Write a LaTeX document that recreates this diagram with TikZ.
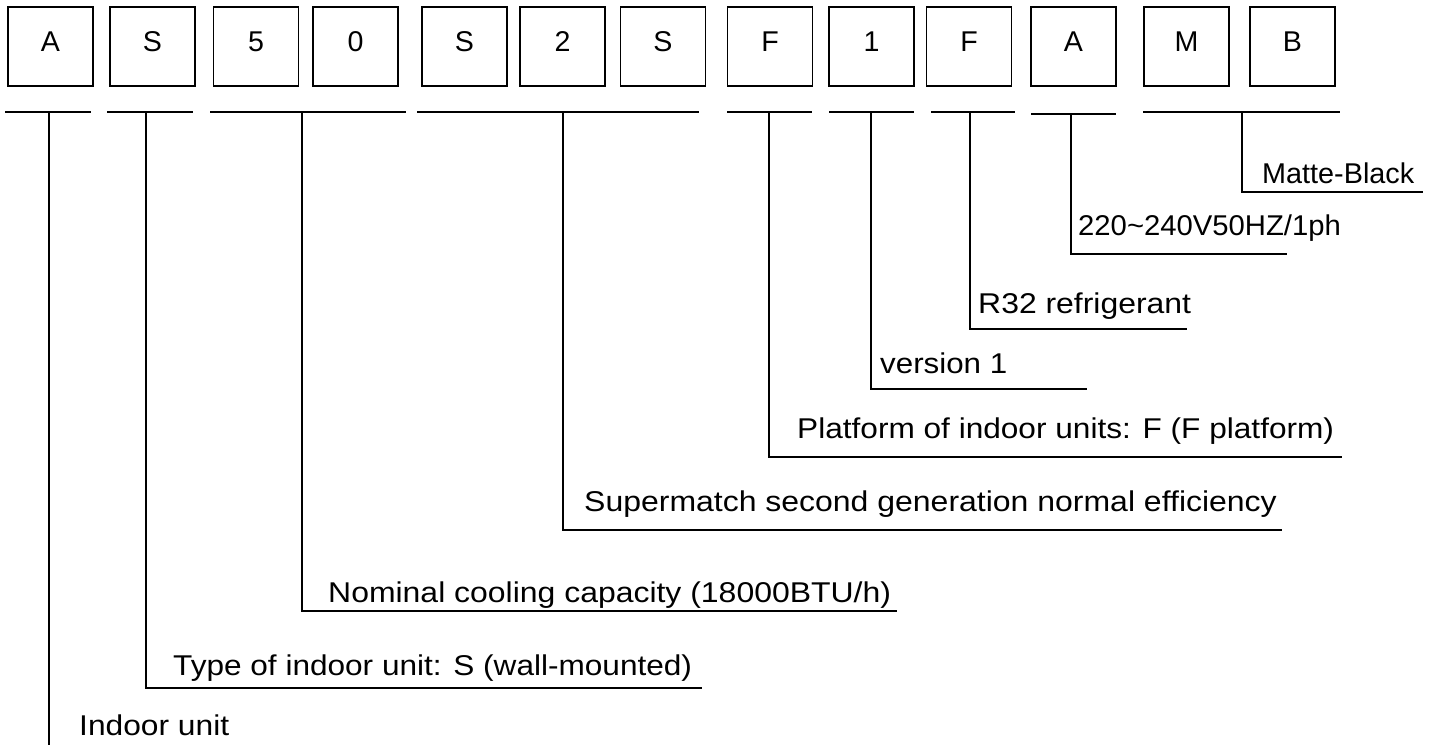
\documentclass[tikz,border=0pt]{standalone}
\usepackage{fontspec}
\usepackage{graphicx}
\setmainfont{Liberation Sans}
\begin{document}
\begin{tikzpicture}
[x=1pt, y=-1pt,
codebox/.style={draw, line width=1.6pt, minimum width=85pt, minimum height=79pt,
                inner sep=0pt, text height=20.5pt, text depth=11pt},
rule/.style={line width=1.6pt},
note/.style={anchor=base west, inner sep=0pt}
]
\tikzset{every node/.style={font=\fontsize{28.6}{34}\selectfont}}
\useasboundingbox (0,0) rectangle (1433,745);
% the code boxes
\foreach \x/\c [count=\i] in {50.5/A,152.5/S,256/5,355.5/0,464.5/S,562.5/2,663/S,
                              770/F,871.5/1,969/F,1073.5/A,1186.5/M,1292.5/B}
    \node[codebox] (box\i) at (\x,46.5) {\c};
% bars under the groups
\foreach \l/\r/\s/\y [count=\i] in {5/91/49/112,107/193/146/112,210/406/302/112,
                                    417/699/563/112,727/812/769/112,829/914/871/112,
                                    931/1015/970/112,1031/1116/1071/114,1143/1340/1242/112}{
    \coordinate (bl\i) at (\l,\y);
    \coordinate (br\i) at (\r,\y);
    \coordinate (top\i) at (\s,\y);
    \draw[rule] (bl\i) -- (br\i);
}
% the explanations
\coordinate (foot1) at (49,745);
\draw[rule] (top1) -- (foot1);
\node[note] (lab1) at (79,735) {\scalebox{1.11}[1]{Indoor unit}};
\foreach \i/\ly/\ex/\tx/\ty/\sx/\txt in {
    2/688/702/173/675/1.104/{Type of indoor unit: S (wall-mounted)},
    3/611/897/328/602/1.117/{Nominal cooling capacity (18000BTU/h)},
    4/530/1282/584/511/1.118/{Supermatch second generation normal efficiency},
    5/457/1342/797/438/1.105/{Platform of indoor units: F (F platform)},
    6/389/1087/880/373/1.095/{version 1},
    7/329/1187/978/313/1.116/{R32 refrigerant},
    8/254/1287/1078/235/1.023/{220\textasciitilde240V50HZ/1ph},
    9/192/1423/1262/183/1.007/{Matte-Black}}{
    \coordinate (end\i) at (\ex,\ly);
    \draw[rule] (top\i) |- (end\i);
    \node[note] (lab\i) at (\tx,\ty) {\scalebox{\sx}[1]{\txt}};
}
\end{tikzpicture}
\end{document}
